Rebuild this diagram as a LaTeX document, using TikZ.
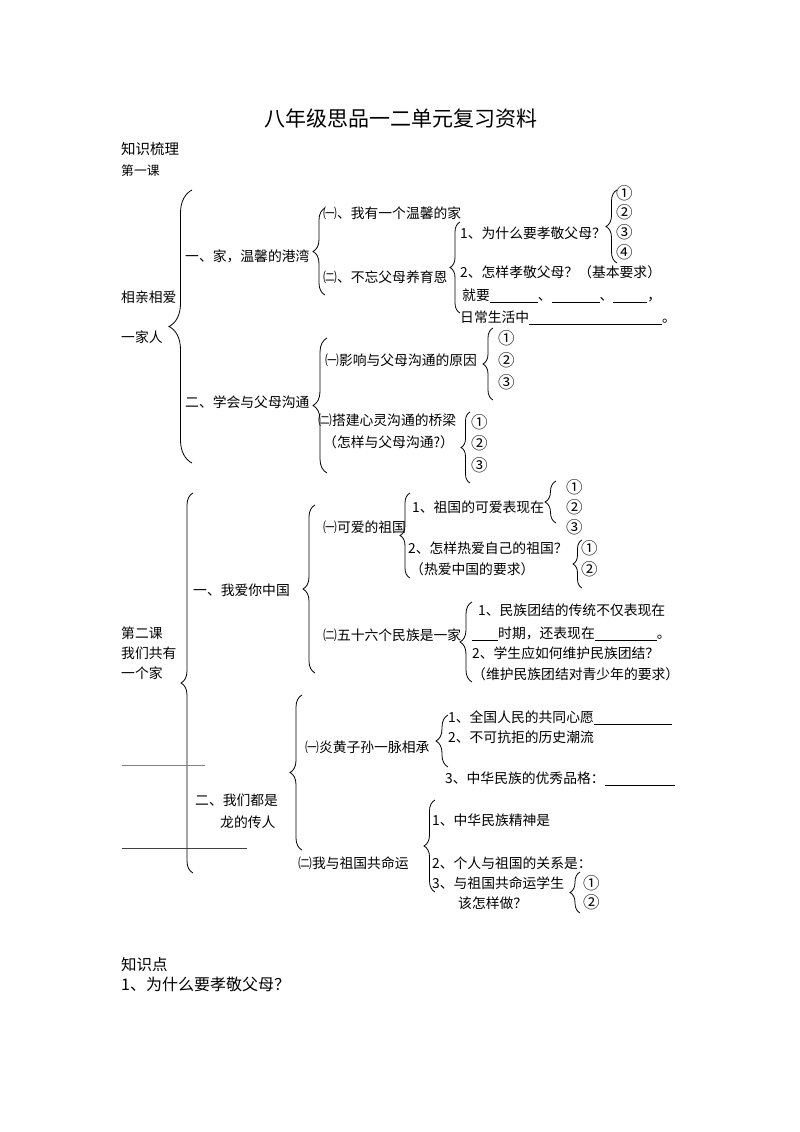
\documentclass[tikz,border=0pt]{standalone}
\usepackage{fontspec}
\setmainfont{Noto Sans CJK SC}
\usetikzlibrary{decorations.pathreplacing}
\newcommand\blankline[1]{\rule[-2pt]{#1pt}{0.6pt}}
\begin{document}
\begin{tikzpicture}[x=1pt,y=-1pt,
 tx/.style={anchor=west,inner sep=0pt,font=\fontsize{13.8}{16}\selectfont,text height=12.4pt,text depth=2pt},
 cn/.style={tx,font=\fontsize{16.5}{18}\selectfont,text height=14pt,text depth=2pt},
 brc/.style={decorate,decoration={brace,amplitude=#1},line width=0.8pt},
 fillline/.style={line width=0.8pt}
]
\useasboundingbox[fill=white] (0,0) rectangle (800,1132);

% title and headings
\node[inner sep=0pt,font=\fontsize{21}{24}\selectfont] (title) at (401,118) {八年级思品一二单元复习资料};
\node[tx,font=\fontsize{14.5}{16}\selectfont] (zsl) at (121,149) {知识梳理};
\node[tx,font=\fontsize{12.8}{15}\selectfont] (dyk) at (121,170) {第一课};

% ---------------- Lesson 1 ----------------
\node[tx] (xqxa) at (121,297) {相亲相爱};
\node[tx] (yjr) at (121,337) {一家人};
\draw[brc=23pt] (192,463) -- (192,190);

\node[tx] (a1) at (185,256) {一、家，温馨的港湾};
\draw[brc=12pt] (325,295) -- (325,208);
\node[tx] (a11) at (323,213) {㈠、我有一个温馨的家};
\node[tx] (a12) at (323,277) {㈡、不忘父母养育恩};

\draw[brc=10pt] (460,313) -- (460,222);
\node[tx] (a121) at (460,233) {1、为什么要孝敬父母？};
\draw[brc=11pt] (617,263) -- (617,190);
\node[cn] (c1) at (616,193) {①};
\node[cn] (c2) at (616,212) {②};
\node[cn] (c3) at (616,232) {③};
\node[cn] (c4) at (616,252) {④};
\node[tx] (a122) at (460,272) {2、怎样孝敬父母？（基本要求）};
\node[tx] (a123) at (462,295) {就要\blankline{48}、\blankline{48}、\blankline{34}，};
\node[tx] (a124) at (460,317) {日常生活中\blankline{133}。};

\node[tx] (a2) at (185,402) {二、学会与父母沟通};
\draw[brc=14pt] (327,473) -- (327,338);
\node[tx] (a21) at (325,360) {㈠影响与父母沟通的原因};
\draw[brc=10pt] (493,400) -- (493,328);
\node[cn] (d1) at (498,338) {①};
\node[cn] (d2) at (498,360) {②};
\node[cn] (d3) at (498,382) {③};
\node[tx] (a22) at (318,420) {㈡搭建心灵沟通的桥梁};
\node[tx] (a22b) at (323,442) {（怎样与父母沟通?）};
\draw[brc=9pt] (470,483) -- (470,412);
\node[cn] (e1) at (471,422) {①};
\node[cn] (e2) at (471,443) {②};
\node[cn] (e3) at (471,465) {③};

% ---------------- Lesson 2 ----------------
\node[tx] (dek) at (121,633) {第二课};
\node[tx] (wmgy) at (121,653) {我们共有};
\node[tx] (ygj) at (121,673) {一个家};
\draw[brc=12pt] (193,873) -- (193,493);

\node[tx] (b1) at (193,590) {一、我爱你中国};
\draw[brc=12pt] (315,673) -- (315,505);
\node[tx] (b11) at (323,527) {㈠可爱的祖国};
\draw[brc=10pt] (410,578) -- (410,493);
\node[tx] (b111) at (412,507) {1、祖国的可爱表现在};
\draw[brc=11pt] (556,523) -- (556,481);
\node[cn] (f1) at (566,487) {①};
\node[cn] (f2) at (566,507) {②};
\node[cn] (f3) at (566,527) {③};
\node[tx] (b112) at (408,548) {2、怎样热爱自己的祖国？};
\node[tx] (b112b) at (410,569) {（热爱中国的要求）};
\draw[brc=9pt] (582,588) -- (582,540);
\node[cn] (g1) at (581,548) {①};
\node[cn] (g2) at (581,569) {②};

\node[tx] (b12) at (323,635) {㈡五十六个民族是一家};
\draw[brc=12pt] (472,682) -- (472,602);
\node[tx] (b121) at (478,610) {1、民族团结的传统不仅表现在};
\node[tx] (b122) at (472,633) {\blankline{26}时期，还表现在\blankline{62}。};
\node[tx] (b123) at (472,653) {2、学生应如何维护民族团结？};
\node[tx] (b124) at (472,674) {（维护民族团结对青少年的要求）};

\node[tx] (b2) at (195,800) {二、我们都是};
\node[tx] (b2b) at (220,822) {龙的传人};
\draw[brc=12pt] (302,850) -- (302,695);
\node[tx] (b21) at (305,747) {㈠炎黄子孙一脉相承};
\draw[brc=12pt] (448,767) -- (448,715);
\node[tx] (b211) at (448,717) {1、全国人民的共同心愿\blankline{78}};
\node[tx] (b212) at (448,737) {2、不可抗拒的历史潮流};
\node[tx] (b213) at (445,778) {3、中华民族的优秀品格：\blankline{70}};
\node[tx] (b22) at (298,863) {㈡我与祖国共命运};
\draw[brc=11pt] (435,892) -- (435,800);
\node[tx] (b221) at (432,820) {1、中华民族精神是};
\node[tx] (b222) at (432,863) {2、个人与祖国的关系是：};
\node[tx] (b223) at (432,883) {3、与祖国共命运学生};
\node[tx] (b223b) at (458,903) {该怎样做？};
\draw[brc=10pt] (580,913) -- (580,872);
\node[cn] (h1) at (583,883) {①};
\node[cn] (h2) at (583,902) {②};

% fill-in lines at left
\coordinate (l1a) at (122,765);
\coordinate (l1b) at (205,765);
\coordinate (l2a) at (122,848);
\coordinate (l2b) at (247,848);
\draw[fillline,gray] (l1a) -- (l1b);
\draw[fillline,black!75] (l2a) -- (l2b);

% knowledge points
\node[tx,font=\fontsize{15.5}{18}\selectfont] (zsd) at (121,965) {知识点};
\node[tx,font=\fontsize{16}{18}\selectfont] (q1) at (121,985) {1、为什么要孝敬父母？};
\end{tikzpicture}
\end{document}
